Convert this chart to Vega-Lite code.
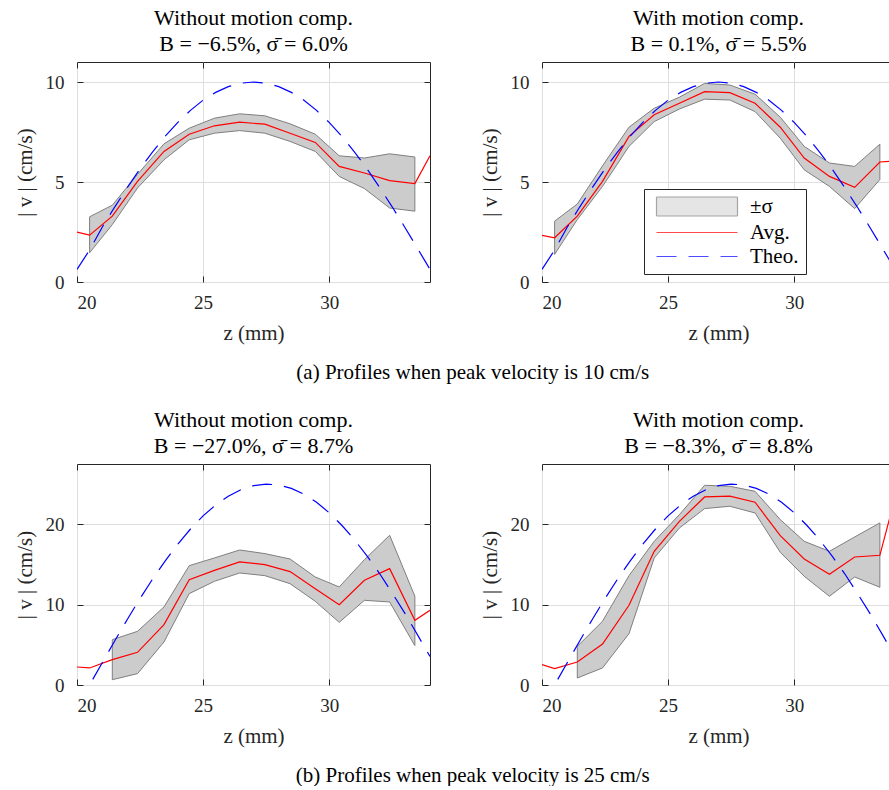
{
  "$schema": "https://vega.github.io/schema/vega-lite/v6.json",
  "padding": {"left": 13, "top": 6, "right": 0, "bottom": 0},
  "config": {
    "font": "Times New Roman",
    "view": {"stroke": "#262626", "strokeWidth": 1},
    "axis": {
      "domain": false,
      "labelFont": "Times New Roman",
      "labelFontSize": 19,
      "labelColor": "#262626",
      "titleFont": "Times New Roman",
      "titleFontSize": 21,
      "titleFontWeight": "normal",
      "titleColor": "#262626",
      "tickColor": "#262626",
      "tickSize": -6,
      "gridColor": "#dedede",
      "labelPadding": 19,
      "titlePadding": 10
    },
    "axisX": {"labelPadding": 17, "titlePadding": 10},
    "title": {"font": "Times New Roman", "fontSize": 22, "fontWeight": "normal", "color": "#000000", "lineHeight": 26, "offset": 6},
    "legend": {
      "orient": "none", "legendX": 567, "legendY": 127,
      "padding": 7,
      "strokeColor": "#262626",
      "fillColor": "#ffffff",
      "labelFont": "Times New Roman",
      "labelFontSize": 21,
      "labelColor": "#000000",
      "symbolSize": 100,
      "symbolStrokeWidth": 1.2,
      "labelOffset": 78,
      "rowPadding": 2
    }
  },
  "datasets": {
    "a1": [
      {"z": 20, "lo": null, "hi": null, "avg": 2.49},
      {"z": 20.5, "lo": 1.46, "hi": 3.26, "avg": 2.34},
      {"z": 21.4, "lo": 2.87, "hi": 3.84, "avg": 3.29},
      {"z": 22.4, "lo": 4.70, "hi": 5.38, "avg": 5.03},
      {"z": 23.45, "lo": 6.11, "hi": 6.91, "avg": 6.53},
      {"z": 24.45, "lo": 7.11, "hi": 7.69, "avg": 7.39},
      {"z": 25.45, "lo": 7.44, "hi": 8.19, "avg": 7.81},
      {"z": 26.45, "lo": 7.57, "hi": 8.41, "avg": 7.99},
      {"z": 27.45, "lo": 7.44, "hi": 8.31, "avg": 7.89},
      {"z": 28.45, "lo": 7.03, "hi": 7.91, "avg": 7.44},
      {"z": 29.45, "lo": 6.53, "hi": 7.39, "avg": 6.98},
      {"z": 30.4, "lo": 5.28, "hi": 6.31, "avg": 5.78},
      {"z": 31.4, "lo": 4.67, "hi": 6.20, "avg": 5.45},
      {"z": 32.4, "lo": 3.70, "hi": 6.41, "avg": 5.07},
      {"z": 33.4, "lo": 3.54, "hi": 6.25, "avg": 4.92},
      {"z": 34, "lo": null, "hi": null, "avg": 6.31}
    ],
    "a2": [
      {"z": 20, "lo": null, "hi": null, "avg": 2.33},
      {"z": 20.5, "lo": 1.38, "hi": 3.04, "avg": 2.21},
      {"z": 21.4, "lo": 3.12, "hi": 3.90, "avg": 3.29},
      {"z": 22.4, "lo": 4.78, "hi": 5.81, "avg": 5.03},
      {"z": 23.45, "lo": 6.78, "hi": 7.74, "avg": 7.28},
      {"z": 24.45, "lo": 8.02, "hi": 8.69, "avg": 8.36},
      {"z": 25.45, "lo": 8.65, "hi": 9.24, "avg": 8.94},
      {"z": 26.45, "lo": 9.14, "hi": 9.93, "avg": 9.52},
      {"z": 27.45, "lo": 9.10, "hi": 9.85, "avg": 9.47},
      {"z": 28.45, "lo": 8.52, "hi": 9.39, "avg": 8.94},
      {"z": 29.45, "lo": 7.19, "hi": 8.24, "avg": 7.74},
      {"z": 30.4, "lo": 5.61, "hi": 6.78, "avg": 6.20},
      {"z": 31.4, "lo": 4.78, "hi": 5.95, "avg": 5.28},
      {"z": 32.4, "lo": 3.67, "hi": 5.78, "avg": 4.73},
      {"z": 33.4, "lo": 5.12, "hi": 6.89, "avg": 6.00},
      {"z": 34, "lo": null, "hi": null, "avg": 6.05}
    ],
    "b1": [
      {"z": 20, "lo": null, "hi": null, "avg": 2.24},
      {"z": 20.5, "lo": null, "hi": null, "avg": 2.12},
      {"z": 21.4, "lo": 0.66, "hi": 5.64, "avg": 3.15},
      {"z": 22.4, "lo": 1.41, "hi": 6.68, "avg": 4.07},
      {"z": 23.45, "lo": 5.35, "hi": 9.71, "avg": 7.51},
      {"z": 24.45, "lo": 11.37, "hi": 14.85, "avg": 13.11},
      {"z": 25.45, "lo": 12.9, "hi": 15.81, "avg": 14.27},
      {"z": 26.45, "lo": 13.94, "hi": 16.80, "avg": 15.31},
      {"z": 27.45, "lo": 13.61, "hi": 16.35, "avg": 14.98},
      {"z": 28.45, "lo": 12.61, "hi": 15.68, "avg": 14.11},
      {"z": 29.45, "lo": 10.41, "hi": 13.44, "avg": 11.99},
      {"z": 30.4, "lo": 7.8, "hi": 12.2, "avg": 10.0},
      {"z": 31.4, "lo": 10.54, "hi": 15.6, "avg": 13.03},
      {"z": 32.4, "lo": 10.33, "hi": 18.63, "avg": 14.48},
      {"z": 33.4, "lo": 4.9, "hi": 11.04, "avg": 8.05},
      {"z": 34, "lo": null, "hi": null, "avg": 9.29}
    ],
    "b2": [
      {"z": 20, "lo": null, "hi": null, "avg": 2.53},
      {"z": 20.5, "lo": null, "hi": null, "avg": 2.03},
      {"z": 21.4, "lo": 0.87, "hi": 4.81, "avg": 2.86},
      {"z": 22.4, "lo": 2.12, "hi": 7.93, "avg": 5.1},
      {"z": 23.45, "lo": 6.39, "hi": 13.61, "avg": 9.92},
      {"z": 24.45, "lo": 15.81, "hi": 17.88, "avg": 16.64},
      {"z": 25.45, "lo": 19.54, "hi": 21.2, "avg": 20.37},
      {"z": 26.45, "lo": 21.95, "hi": 24.85, "avg": 23.4},
      {"z": 27.45, "lo": 22.24, "hi": 24.73, "avg": 23.49},
      {"z": 28.45, "lo": 21.41, "hi": 24.1, "avg": 22.74},
      {"z": 29.45, "lo": 16.51, "hi": 20.58, "avg": 18.59},
      {"z": 30.4, "lo": 13.53, "hi": 17.88, "avg": 15.68},
      {"z": 31.4, "lo": 11.04, "hi": 16.64, "avg": 13.78},
      {"z": 32.4, "lo": 13.44, "hi": 18.42, "avg": 15.93},
      {"z": 33.4, "lo": 12.16, "hi": 20.17, "avg": 16.14},
      {"z": 34, "lo": null, "hi": null, "avg": 23.3}
    ],
    "t10": [
      {"z": 20, "v": 0.63}, {"z": 20.5, "v": 1.6}, {"z": 21, "v": 2.74}, {"z": 21.5, "v": 3.76},
      {"z": 22, "v": 4.73}, {"z": 22.5, "v": 5.66}, {"z": 23, "v": 6.51}, {"z": 23.5, "v": 7.29},
      {"z": 24, "v": 7.98}, {"z": 24.5, "v": 8.58}, {"z": 25, "v": 9.09}, {"z": 25.5, "v": 9.48},
      {"z": 26, "v": 9.77}, {"z": 26.5, "v": 9.94}, {"z": 27, "v": 10.0}, {"z": 27.5, "v": 9.94},
      {"z": 28, "v": 9.77}, {"z": 28.5, "v": 9.48}, {"z": 29, "v": 9.09}, {"z": 29.5, "v": 8.58},
      {"z": 30, "v": 7.98}, {"z": 30.5, "v": 7.29}, {"z": 31, "v": 6.51}, {"z": 31.5, "v": 5.66},
      {"z": 32, "v": 4.73}, {"z": 32.5, "v": 3.76}, {"z": 33, "v": 2.74}, {"z": 33.5, "v": 1.69},
      {"z": 34, "v": 0.63}
    ],
    "t25": [
      {"z": 20, "v": -2.77}, {"z": 20.5, "v": 0.0}, {"z": 21, "v": 2.77}, {"z": 21.5, "v": 5.51},
      {"z": 22, "v": 8.19}, {"z": 22.5, "v": 10.76}, {"z": 23, "v": 13.19}, {"z": 23.5, "v": 15.45},
      {"z": 24, "v": 17.54}, {"z": 24.5, "v": 19.41}, {"z": 25, "v": 21.04}, {"z": 25.5, "v": 22.4},
      {"z": 26, "v": 23.49}, {"z": 26.5, "v": 24.3}, {"z": 27, "v": 24.8}, {"z": 27.5, "v": 25.0},
      {"z": 28, "v": 24.89}, {"z": 28.5, "v": 24.47}, {"z": 29, "v": 23.75}, {"z": 29.5, "v": 22.74},
      {"z": 30, "v": 21.44}, {"z": 30.5, "v": 19.88}, {"z": 31, "v": 18.09}, {"z": 31.5, "v": 16.06},
      {"z": 32, "v": 13.87}, {"z": 32.5, "v": 11.46}, {"z": 33, "v": 8.94}, {"z": 33.5, "v": 6.27},
      {"z": 34, "v": 3.54}
    ],
    "legendEntries": [
      {"s": "±σ"}, {"s": "Avg."}, {"s": "Theo."}
    ]
  },
  "vconcat": [
    {
      "title": {"text": "(a) Profiles when peak velocity is 10 cm/s", "orient": "bottom", "fontSize": 21, "offset": 18, "anchor": "middle", "dx": 18},
      "spacing": 47,
      "hconcat": [
        {
          "width": 353, "height": 220,
          "title": {"text": ["Without motion comp.", "B = −6.5%, σ̄ = 6.0%"]},
          "resolve": {"axis": {"x": "independent", "y": "independent"}},
          "layer": [
            {
              "data": {"name": "a1"},
              "transform": [{"filter": "isValid(datum.lo)"}],
              "mark": {"type": "area", "fill": "#cccccc", "stroke": "#7f7f7f", "strokeWidth": 1, "clip": true},
              "encoding": {
                "x": {"field": "z", "type": "quantitative", "scale": {"domain": [20, 34], "nice": false, "zero": false}, "axis": {"values": [20, 25, 30], "title": "z (mm)"}},
                "y": {"field": "lo", "type": "quantitative", "scale": {"domain": [0, 11], "nice": false, "zero": false}, "axis": {"values": [0, 5, 10], "title": "| v | (cm/s)"}},
                "y2": {"field": "hi"}
              }
            },
            {
              "data": {"name": "a1"},
              "mark": {"type": "line", "color": "#ff0000", "strokeWidth": 1.2, "clip": true},
              "encoding": {
                "x": {"field": "z", "type": "quantitative", "scale": {"domain": [20, 34], "nice": false, "zero": false}, "axis": null},
                "y": {"field": "avg", "type": "quantitative", "scale": {"domain": [0, 11], "nice": false, "zero": false}, "axis": null}
              }
            },
            {
              "data": {"name": "t10"},
              "mark": {"type": "line", "color": "#0000ff", "strokeWidth": 1.2, "strokeDash": [20, 12], "clip": true},
              "encoding": {
                "x": {"field": "z", "type": "quantitative", "scale": {"domain": [20, 34], "nice": false, "zero": false}, "axis": {"orient": "top", "values": [20, 25, 30], "labels": false, "title": null, "grid": false}},
                "y": {"field": "v", "type": "quantitative", "scale": {"domain": [0, 11], "nice": false, "zero": false}, "axis": {"orient": "right", "values": [0, 5, 10], "labels": false, "title": null, "grid": false}}
              }
            }
          ]
        },
        {
          "width": 353, "height": 220,
          "title": {"text": ["With motion comp.", "B = 0.1%, σ̄ = 5.5%"]},
          "resolve": {"axis": {"x": "independent", "y": "independent"}},
          "layer": [
            {
              "data": {"name": "a2"},
              "transform": [{"filter": "isValid(datum.lo)"}],
              "mark": {"type": "area", "fill": "#cccccc", "stroke": "#7f7f7f", "strokeWidth": 1, "clip": true},
              "encoding": {
                "x": {"field": "z", "type": "quantitative", "scale": {"domain": [20, 34], "nice": false, "zero": false}, "axis": {"values": [20, 25, 30], "title": "z (mm)"}},
                "y": {"field": "lo", "type": "quantitative", "scale": {"domain": [0, 11], "nice": false, "zero": false}, "axis": {"values": [0, 5, 10], "title": "| v | (cm/s)"}},
                "y2": {"field": "hi"}
              }
            },
            {
              "data": {"name": "a2"},
              "mark": {"type": "line", "color": "#ff0000", "strokeWidth": 1.2, "clip": true},
              "encoding": {
                "x": {"field": "z", "type": "quantitative", "scale": {"domain": [20, 34], "nice": false, "zero": false}, "axis": null},
                "y": {"field": "avg", "type": "quantitative", "scale": {"domain": [0, 11], "nice": false, "zero": false}, "axis": null}
              }
            },
            {
              "data": {"name": "t10"},
              "mark": {"type": "line", "color": "#0000ff", "strokeWidth": 1.2, "strokeDash": [20, 12], "clip": true},
              "encoding": {
                "x": {"field": "z", "type": "quantitative", "scale": {"domain": [20, 34], "nice": false, "zero": false}, "axis": {"orient": "top", "values": [20, 25, 30], "labels": false, "title": null, "grid": false}},
                "y": {"field": "v", "type": "quantitative", "scale": {"domain": [0, 11], "nice": false, "zero": false}, "axis": {"orient": "right", "values": [0, 5, 10], "labels": false, "title": null, "grid": false}}
              }
            },
            {
              "data": {"name": "legendEntries"},
              "mark": {"type": "point", "size": 0, "strokeWidth": 1.2},
              "encoding": {
                "fill": {"field": "s", "type": "nominal", "scale": {"domain": ["±σ", "Avg.", "Theo."], "range": ["#cccccc", "transparent", "transparent"]}, "legend": {"title": null}},
                "stroke": {"field": "s", "type": "nominal", "scale": {"domain": ["±σ", "Avg.", "Theo."], "range": ["#7f7f7f", "#ff0000", "#0000ff"]}, "legend": {"title": null}},
                "shape": {"field": "s", "type": "nominal", "scale": {"domain": ["±σ", "Avg.", "Theo."], "range": ["M-1,-1.9H15.2V1.9H-1Z", "M-1,0H15.2", "M-1,0H15.2"]}, "legend": {"title": null}},
                "strokeDash": {"field": "s", "type": "nominal", "scale": {"domain": ["±σ", "Avg.", "Theo."], "range": [[1, 0], [1, 0], [20, 12]]}, "legend": {"title": null}}
              }
            }
          ]
        }
      ]
    },
    {
      "title": {"text": "(b) Profiles when peak velocity is 25 cm/s", "orient": "bottom", "fontSize": 21, "offset": 18, "anchor": "middle", "dx": 18},
      "spacing": 47,
      "hconcat": [
        {
          "width": 353, "height": 221,
          "title": {"text": ["Without motion comp.", "B = −27.0%, σ̄ = 8.7%"]},
          "resolve": {"axis": {"x": "independent", "y": "independent"}},
          "layer": [
            {
              "data": {"name": "b1"},
              "transform": [{"filter": "isValid(datum.lo)"}],
              "mark": {"type": "area", "fill": "#cccccc", "stroke": "#7f7f7f", "strokeWidth": 1, "clip": true},
              "encoding": {
                "x": {"field": "z", "type": "quantitative", "scale": {"domain": [20, 34], "nice": false, "zero": false}, "axis": {"values": [20, 25, 30], "title": "z (mm)"}},
                "y": {"field": "lo", "type": "quantitative", "scale": {"domain": [0, 27.5], "nice": false, "zero": false}, "axis": {"values": [0, 10, 20], "title": "| v | (cm/s)"}},
                "y2": {"field": "hi"}
              }
            },
            {
              "data": {"name": "b1"},
              "mark": {"type": "line", "color": "#ff0000", "strokeWidth": 1.2, "clip": true},
              "encoding": {
                "x": {"field": "z", "type": "quantitative", "scale": {"domain": [20, 34], "nice": false, "zero": false}, "axis": null},
                "y": {"field": "avg", "type": "quantitative", "scale": {"domain": [0, 27.5], "nice": false, "zero": false}, "axis": null}
              }
            },
            {
              "data": {"name": "t25"},
              "mark": {"type": "line", "color": "#0000ff", "strokeWidth": 1.2, "strokeDash": [20, 12], "clip": true},
              "encoding": {
                "x": {"field": "z", "type": "quantitative", "scale": {"domain": [20, 34], "nice": false, "zero": false}, "axis": {"orient": "top", "values": [20, 25, 30], "labels": false, "title": null, "grid": false}},
                "y": {"field": "v", "type": "quantitative", "scale": {"domain": [0, 27.5], "nice": false, "zero": false}, "axis": {"orient": "right", "values": [0, 10, 20], "labels": false, "title": null, "grid": false}}
              }
            }
          ]
        },
        {
          "width": 353, "height": 221,
          "title": {"text": ["With motion comp.", "B = −8.3%, σ̄ = 8.8%"]},
          "resolve": {"axis": {"x": "independent", "y": "independent"}},
          "layer": [
            {
              "data": {"name": "b2"},
              "transform": [{"filter": "isValid(datum.lo)"}],
              "mark": {"type": "area", "fill": "#cccccc", "stroke": "#7f7f7f", "strokeWidth": 1, "clip": true},
              "encoding": {
                "x": {"field": "z", "type": "quantitative", "scale": {"domain": [20, 34], "nice": false, "zero": false}, "axis": {"values": [20, 25, 30], "title": "z (mm)"}},
                "y": {"field": "lo", "type": "quantitative", "scale": {"domain": [0, 27.5], "nice": false, "zero": false}, "axis": {"values": [0, 10, 20], "title": "| v | (cm/s)"}},
                "y2": {"field": "hi"}
              }
            },
            {
              "data": {"name": "b2"},
              "mark": {"type": "line", "color": "#ff0000", "strokeWidth": 1.2, "clip": true},
              "encoding": {
                "x": {"field": "z", "type": "quantitative", "scale": {"domain": [20, 34], "nice": false, "zero": false}, "axis": null},
                "y": {"field": "avg", "type": "quantitative", "scale": {"domain": [0, 27.5], "nice": false, "zero": false}, "axis": null}
              }
            },
            {
              "data": {"name": "t25"},
              "mark": {"type": "line", "color": "#0000ff", "strokeWidth": 1.2, "strokeDash": [20, 12], "clip": true},
              "encoding": {
                "x": {"field": "z", "type": "quantitative", "scale": {"domain": [20, 34], "nice": false, "zero": false}, "axis": {"orient": "top", "values": [20, 25, 30], "labels": false, "title": null, "grid": false}},
                "y": {"field": "v", "type": "quantitative", "scale": {"domain": [0, 27.5], "nice": false, "zero": false}, "axis": {"orient": "right", "values": [0, 10, 20], "labels": false, "title": null, "grid": false}}
              }
            }
          ]
        }
      ]
    }
  ],
  "spacing": 25
}
